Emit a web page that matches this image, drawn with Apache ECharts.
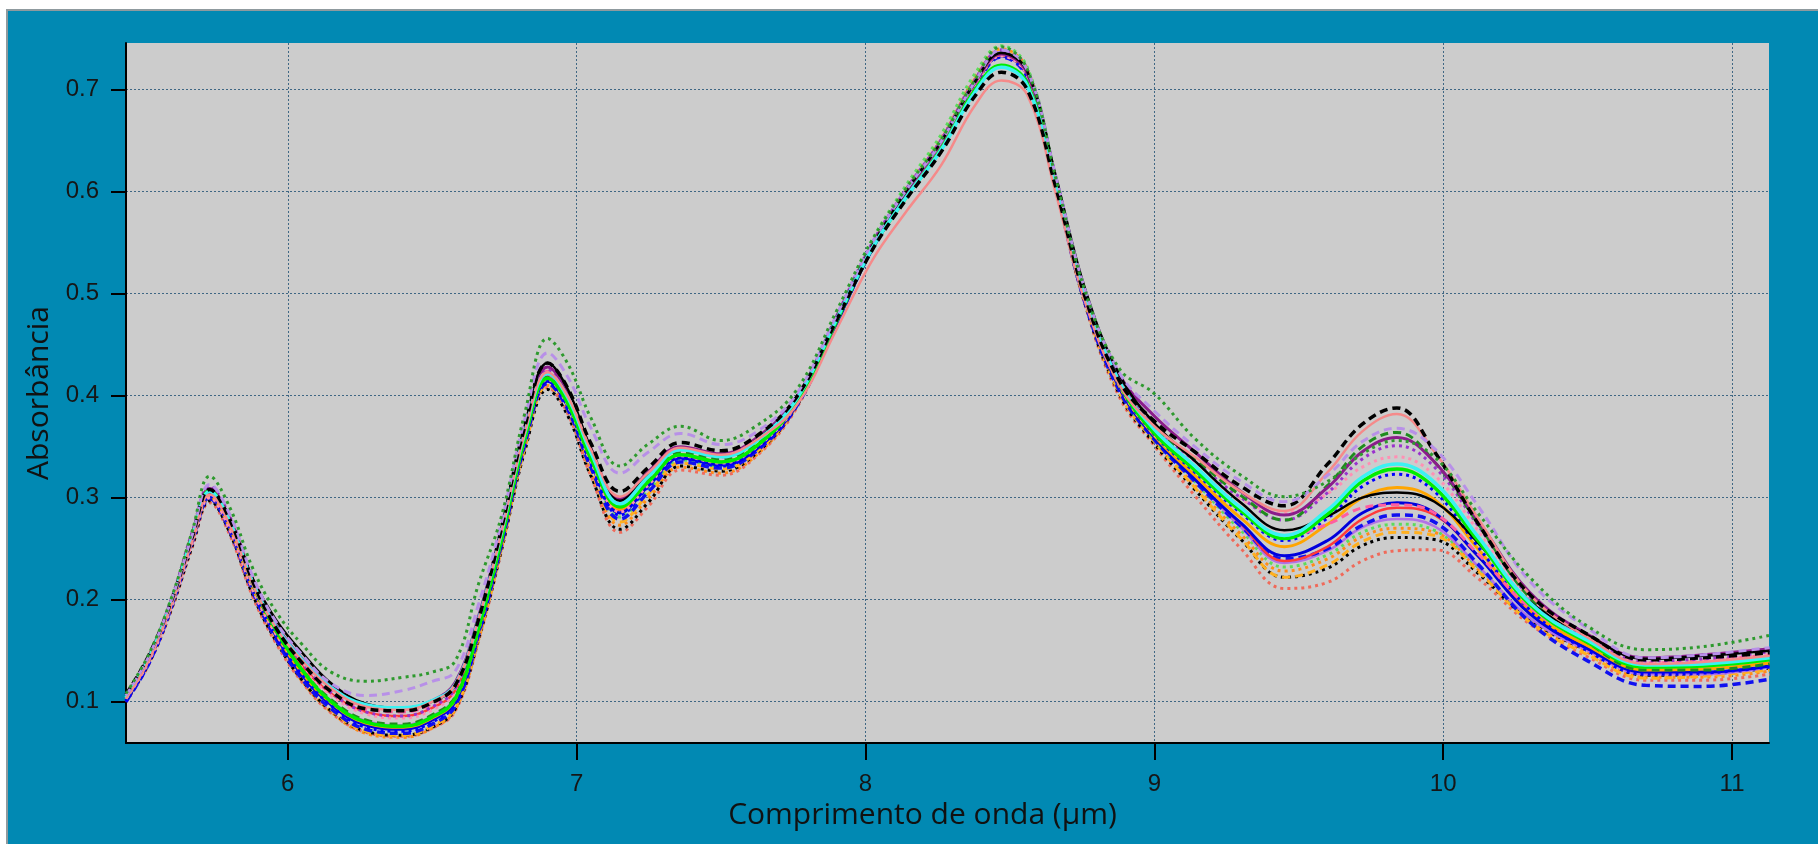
<!DOCTYPE html>
<html>
<head>
<meta charset="utf-8">
<script src="https://cdn.jsdelivr.net/npm/echarts@6/dist/echarts.min.js"></script>
<style>
html,body{margin:0;padding:0;background:#fff;}
#chart{width:1818px;height:844px;}
</style>
</head>
<body>
<div id="chart"></div>
<script>
const wavelengths = [5.44,5.52,5.60,5.67,5.73,5.80,5.88,5.96,6.05,6.15,6.27,6.40,6.50,6.58,6.66,6.74,6.82,6.90,6.97,7.05,7.15,7.25,7.36,7.50,7.62,7.76,7.90,8.02,8.14,8.26,8.38,8.47,8.56,8.66,8.76,8.88,9.00,9.14,9.30,9.45,9.60,9.72,9.84,9.97,10.12,10.30,10.50,10.70,10.90,11.13];
const xTicks = [6,7,8,9,10,11];
const yTicks = [0.1,0.2,0.3,0.4,0.5,0.6,0.7];

const greenDotted = [0.108,0.147,0.204,0.268,0.321,0.290,0.230,0.188,0.156,0.129,
 0.120,0.124,0.129,0.140,0.215,0.282,0.382,0.456,0.431,0.378,
 0.331,0.353,0.370,0.356,0.370,0.405,0.483,0.551,0.603,0.650,
 0.710,0.742,0.720,0.612,0.503,0.426,0.402,0.358,0.322,0.301,
 0.316,0.343,0.356,0.340,0.285,0.222,0.174,0.151,0.154,0.165];
const lavenderDashed = [0.106,0.145,0.202,0.264,0.313,0.283,0.222,0.178,0.146,0.118,
 0.106,0.111,0.120,0.130,0.195,0.276,0.376,0.442,0.418,0.368,
 0.324,0.345,0.363,0.352,0.364,0.401,0.479,0.548,0.601,0.648,
 0.708,0.739,0.719,0.614,0.504,0.422,0.385,0.350,0.316,0.296,
 0.322,0.355,0.368,0.348,0.292,0.218,0.172,0.143,0.146,0.153];
const blackDashed = [0.107,0.146,0.201,0.262,0.308,0.278,0.217,0.172,0.138,0.110,
 0.093,0.091,0.099,0.116,0.180,0.270,0.369,0.432,0.407,0.353,
 0.306,0.330,0.354,0.346,0.360,0.398,0.474,0.541,0.592,0.638,
 0.694,0.717,0.700,0.603,0.497,0.414,0.375,0.345,0.311,0.292,
 0.333,0.372,0.388,0.345,0.275,0.205,0.166,0.141,0.143,0.148];
const salmonSolid = [0.103,0.141,0.197,0.258,0.303,0.273,0.214,0.172,0.140,0.113,
 0.095,0.092,0.100,0.117,0.180,0.266,0.363,0.423,0.399,0.347,
 0.301,0.325,0.349,0.342,0.356,0.390,0.465,0.531,0.580,0.625,
 0.685,0.709,0.695,0.597,0.492,0.410,0.370,0.340,0.306,0.287,
 0.325,0.365,0.382,0.345,0.280,0.205,0.163,0.137,0.139,0.145];
const darkGreenDashed = [0.105,0.143,0.199,0.262,0.306,0.275,0.214,0.169,0.131,0.102,
 0.082,0.078,0.087,0.105,0.173,0.260,0.358,0.418,0.393,0.340,
 0.291,0.318,0.344,0.338,0.353,0.395,0.476,0.546,0.600,0.648,
 0.708,0.736,0.717,0.611,0.500,0.414,0.368,0.338,0.302,0.278,
 0.312,0.350,0.364,0.335,0.275,0.202,0.158,0.131,0.131,0.137];
const magentaSolid = [0.106,0.145,0.201,0.265,0.309,0.279,0.219,0.175,0.142,0.115,
 0.097,0.093,0.101,0.119,0.183,0.270,0.368,0.428,0.403,0.348,
 0.299,0.326,0.350,0.343,0.358,0.398,0.477,0.546,0.599,0.647,
 0.707,0.735,0.716,0.612,0.503,0.420,0.380,0.345,0.306,0.283,
 0.310,0.345,0.359,0.335,0.278,0.207,0.166,0.143,0.146,0.152];
const purpleDotted = [0.105,0.145,0.203,0.267,0.311,0.281,0.219,0.174,0.138,0.109,
 0.090,0.086,0.095,0.113,0.179,0.267,0.365,0.425,0.400,0.344,
 0.294,0.321,0.347,0.340,0.355,0.397,0.478,0.548,0.602,0.650,
 0.710,0.739,0.720,0.613,0.502,0.416,0.370,0.336,0.300,0.278,
 0.305,0.338,0.351,0.330,0.273,0.203,0.163,0.140,0.142,0.149];
const pinkDotted = [0.103,0.140,0.195,0.256,0.300,0.268,0.209,0.166,0.133,0.106,
 0.088,0.084,0.092,0.110,0.175,0.260,0.356,0.416,0.390,0.335,
 0.286,0.313,0.341,0.334,0.349,0.391,0.473,0.544,0.598,0.646,
 0.705,0.733,0.714,0.607,0.496,0.410,0.362,0.328,0.298,0.285,
 0.304,0.330,0.340,0.322,0.268,0.200,0.162,0.138,0.140,0.146];
const cyanSolid = [0.104,0.143,0.199,0.262,0.306,0.276,0.216,0.173,0.141,0.114,
 0.097,0.094,0.101,0.117,0.180,0.266,0.363,0.422,0.398,0.344,
 0.294,0.321,0.347,0.340,0.355,0.396,0.475,0.543,0.594,0.640,
 0.698,0.722,0.704,0.603,0.497,0.413,0.367,0.331,0.290,0.263,
 0.288,0.320,0.333,0.315,0.262,0.197,0.160,0.136,0.137,0.143];
const limeSolid = [0.104,0.143,0.200,0.263,0.307,0.276,0.215,0.170,0.131,0.100,
 0.080,0.076,0.085,0.103,0.171,0.259,0.357,0.417,0.392,0.338,
 0.291,0.316,0.342,0.335,0.350,0.393,0.473,0.543,0.594,0.641,
 0.700,0.724,0.706,0.604,0.496,0.411,0.363,0.327,0.287,0.260,
 0.284,0.316,0.328,0.310,0.258,0.195,0.158,0.134,0.135,0.141];
const blueDotted = [0.100,0.139,0.196,0.259,0.301,0.270,0.210,0.164,0.126,0.096,
 0.075,0.071,0.080,0.098,0.166,0.255,0.353,0.415,0.389,0.333,
 0.283,0.311,0.338,0.331,0.347,0.391,0.473,0.543,0.597,0.646,
 0.706,0.734,0.714,0.606,0.495,0.409,0.362,0.325,0.285,0.258,
 0.280,0.311,0.323,0.306,0.252,0.190,0.150,0.127,0.128,0.134];
const orangeSolid = [0.103,0.141,0.197,0.259,0.301,0.270,0.210,0.166,0.128,0.099,
 0.079,0.075,0.084,0.102,0.169,0.258,0.356,0.417,0.392,0.337,
 0.289,0.316,0.342,0.335,0.350,0.392,0.473,0.543,0.597,0.646,
 0.706,0.734,0.715,0.608,0.496,0.409,0.361,0.322,0.280,0.252,
 0.274,0.300,0.310,0.298,0.250,0.190,0.155,0.131,0.132,0.138];
const blackSolid = [0.105,0.144,0.200,0.262,0.305,0.276,0.220,0.180,0.148,0.118,
 0.098,0.094,0.100,0.116,0.180,0.270,0.370,0.432,0.406,0.348,
 0.297,0.323,0.348,0.341,0.356,0.396,0.475,0.545,0.600,0.648,
 0.708,0.736,0.718,0.614,0.505,0.420,0.373,0.336,0.295,0.268,
 0.282,0.300,0.305,0.296,0.256,0.198,0.165,0.142,0.145,0.150];
const blueSolid = [0.101,0.140,0.196,0.258,0.300,0.269,0.209,0.164,0.126,0.097,
 0.077,0.073,0.082,0.100,0.168,0.256,0.354,0.414,0.389,0.334,
 0.285,0.312,0.339,0.332,0.347,0.390,0.471,0.542,0.596,0.645,
 0.705,0.733,0.714,0.606,0.494,0.407,0.359,0.318,0.275,0.243,
 0.258,0.285,0.295,0.285,0.243,0.186,0.152,0.129,0.129,0.135];
const redSolid = [0.104,0.142,0.198,0.261,0.303,0.272,0.212,0.169,0.135,0.108,
 0.090,0.086,0.094,0.111,0.175,0.261,0.358,0.418,0.393,0.337,
 0.288,0.315,0.342,0.335,0.350,0.392,0.473,0.544,0.598,0.647,
 0.707,0.735,0.716,0.608,0.496,0.408,0.360,0.319,0.274,0.238,
 0.252,0.279,0.290,0.283,0.243,0.188,0.154,0.131,0.132,0.138];
const blueDashed = [0.100,0.138,0.195,0.257,0.299,0.267,0.207,0.161,0.122,0.093,
 0.073,0.069,0.078,0.096,0.165,0.254,0.351,0.412,0.386,0.329,
 0.279,0.306,0.335,0.329,0.345,0.389,0.471,0.542,0.596,0.644,
 0.703,0.732,0.712,0.603,0.491,0.404,0.357,0.316,0.272,0.240,
 0.250,0.273,0.283,0.276,0.235,0.178,0.140,0.116,0.115,0.122];
const mediumPurpleSolid = [0.103,0.141,0.197,0.260,0.302,0.271,0.211,0.167,0.130,0.101,
 0.081,0.077,0.086,0.104,0.171,0.259,0.357,0.420,0.395,0.338,
 0.287,0.314,0.340,0.333,0.349,0.392,0.474,0.545,0.600,0.649,
 0.709,0.737,0.717,0.609,0.495,0.406,0.359,0.318,0.271,0.236,
 0.248,0.271,0.279,0.272,0.233,0.182,0.150,0.127,0.127,0.134];
const lightGreenDotted = [0.104,0.143,0.199,0.262,0.304,0.273,0.213,0.167,0.129,0.100,
 0.079,0.075,0.084,0.102,0.170,0.260,0.359,0.419,0.393,0.335,
 0.281,0.308,0.337,0.331,0.348,0.394,0.478,0.551,0.606,0.655,
 0.716,0.743,0.722,0.612,0.497,0.406,0.357,0.316,0.268,0.232,
 0.244,0.266,0.274,0.268,0.232,0.182,0.152,0.129,0.130,0.137];
const orangeDashed = [0.102,0.139,0.195,0.257,0.300,0.268,0.207,0.161,0.122,0.092,
 0.071,0.067,0.076,0.094,0.162,0.251,0.348,0.410,0.385,0.326,
 0.276,0.304,0.334,0.328,0.344,0.390,0.474,0.546,0.601,0.650,
 0.711,0.738,0.717,0.606,0.491,0.402,0.355,0.310,0.260,0.222,
 0.234,0.257,0.266,0.263,0.228,0.178,0.146,0.123,0.125,0.131];
const blackDotted = [0.101,0.138,0.193,0.253,0.297,0.265,0.204,0.159,0.121,0.091,
 0.071,0.067,0.075,0.093,0.161,0.249,0.345,0.406,0.380,0.321,
 0.269,0.296,0.331,0.326,0.343,0.389,0.472,0.544,0.599,0.648,
 0.708,0.735,0.714,0.604,0.490,0.401,0.353,0.308,0.259,0.222,
 0.231,0.253,0.261,0.259,0.226,0.180,0.150,0.126,0.127,0.133];
const salmonDotted = [0.100,0.137,0.192,0.252,0.295,0.263,0.202,0.157,0.119,0.089,
 0.070,0.066,0.074,0.091,0.159,0.248,0.346,0.408,0.382,0.321,
 0.266,0.292,0.327,0.322,0.340,0.387,0.472,0.545,0.600,0.650,
 0.710,0.737,0.716,0.604,0.489,0.398,0.351,0.302,0.250,0.211,
 0.217,0.238,0.248,0.249,0.221,0.176,0.144,0.121,0.121,0.127];
const orangeDotted = [0.102,0.140,0.196,0.257,0.298,0.266,0.205,0.160,0.120,0.090,
 0.069,0.065,0.074,0.092,0.160,0.250,0.348,0.410,0.385,0.325,
 0.273,0.300,0.330,0.324,0.341,0.389,0.474,0.547,0.603,0.652,
 0.713,0.740,0.720,0.608,0.492,0.402,0.355,0.312,0.264,0.228,
 0.240,0.262,0.270,0.266,0.230,0.180,0.148,0.124,0.124,0.130];
const hotPinkDashed = [0.104,0.143,0.200,0.263,0.306,0.276,0.216,0.173,0.139,0.112,
 0.093,0.090,0.098,0.115,0.179,0.265,0.362,0.424,0.399,0.344,
 0.296,0.323,0.348,0.341,0.356,0.395,0.474,0.543,0.597,0.646,
 0.706,0.734,0.715,0.609,0.499,0.414,0.368,0.330,0.290,0.262,
 0.274,0.290,0.293,0.285,0.245,0.192,0.160,0.138,0.140,0.146];

const DOT = [3, 4];
const DASH = [8, 5];
const seriesDefs = [
  {name:'s1', values: orangeDotted, color:'#FF8C1A', dash: DOT, width:3},
  {name:'s2', values: salmonDotted, color:'#F06A5A', dash: DOT, width:3},
  {name:'s3', values: blackDotted, color:'#000000', dash: DOT, width:3},
  {name:'s4', values: orangeDashed, color:'#FFB020', dash: DASH, width:3},
  {name:'s5', values: lightGreenDotted, color:'#5CDC5C', dash: DOT, width:3},
  {name:'s6', values: mediumPurpleSolid, color:'#B272E6', dash: 'solid', width:2.5},
  {name:'s7', values: blueDashed, color:'#1010F0', dash: DASH, width:3.5},
  {name:'s8', values: redSolid, color:'#FF3A3A', dash: 'solid', width:2.5},
  {name:'s9', values: blueSolid, color:'#0000DD', dash: 'solid', width:3},
  {name:'s10', values: orangeSolid, color:'#FFA500', dash: 'solid', width:3},
  {name:'s11', values: blueDotted, color:'#0000FF', dash: DOT, width:3},
  {name:'s12', values: hotPinkDashed, color:'#FF5FA0', dash: DASH, width:3},
  {name:'s13', values: pinkDotted, color:'#FF90B4', dash: DOT, width:3},
  {name:'s14', values: purpleDotted, color:'#9A32CD', dash: DOT, width:3},
  {name:'s15', values: darkGreenDashed, color:'#1E8C1E', dash: DASH, width:3},
  {name:'s16', values: magentaSolid, color:'#8B1C8B', dash: 'solid', width:3},
  {name:'s17', values: blackSolid, color:'#000000', dash: 'solid', width:2.5},
  {name:'s18', values: limeSolid, color:'#00EE00', dash: 'solid', width:3.5},
  {name:'s19', values: cyanSolid, color:'#3CF2F2', dash: 'solid', width:3.5},
  {name:'s20', values: salmonSolid, color:'#F58A8A', dash: 'solid', width:2.5},
  {name:'s21', values: blackDashed, color:'#000000', dash: DASH, width:3.5},
  {name:'s22', values: lavenderDashed, color:'#B890E8', dash: DASH, width:3},
  {name:'s23', values: greenDotted, color:'#2E9A2E', dash: DOT, width:3}
];

const chart = echarts.init(document.getElementById('chart'), null, {renderer:'canvas'});
const option = {
  animation: false,
  backgroundColor: '#0189B3',
  graphic: [
    {type:'rect', shape:{x:0,y:0,width:1818,height:9}, style:{fill:'#ffffff'}, silent:true},
    {type:'rect', shape:{x:0,y:0,width:6,height:844}, style:{fill:'#ffffff'}, silent:true},
    {type:'rect', shape:{x:6,y:9,width:1812,height:2}, style:{fill:'#8f9a9e'}, silent:true},
    {type:'rect', shape:{x:6,y:9,width:2,height:835}, style:{fill:'#8f9a9e'}, silent:true}
  ],
  grid: {left:126, top:43, right:49, bottom:101, show:true, backgroundColor:'#CCCCCC', borderWidth:0},
  xAxis: {
    type:'value', min:5.44, max:11.128,
    axisLine:{show:true, onZero:false, lineStyle:{color:'#000', width:2}},
    axisTick:{show:true, customValues: xTicks, length:17, lineStyle:{color:'#000', width:2}},
    axisLabel:{customValues: xTicks, fontSize:24, color:'#161616', margin:29, fontFamily:'Liberation Sans, Arial, sans-serif'},
    splitLine:{show:true, lineStyle:{color:'#3f6784', type:[2,2], width:1}},
    name:'Comprimento de onda (µm)', nameLocation:'middle', nameGap:57,
    nameTextStyle:{fontSize:30, fontFamily:'Open Sans, sans-serif', color:'#111', padding:[0,50,0,0]}
  },
  yAxis: {
    type:'value', min:0.0595, max:0.7457,
    axisLine:{show:true, onZero:false, lineStyle:{color:'#000', width:2}},
    axisTick:{show:true, customValues: yTicks, length:15, lineStyle:{color:'#000', width:2}},
    axisLabel:{customValues: yTicks, fontSize:24, color:'#161616', margin:27, fontFamily:'Liberation Sans, Arial, sans-serif'},
    splitLine:{show:true, lineStyle:{color:'#3f6784', type:[2,2], width:1}},
    name:'Absorbância', nameLocation:'middle', nameGap:70,
    nameTextStyle:{fontSize:30, fontFamily:'Open Sans, sans-serif', color:'#111'}
  },
  series: seriesDefs.map(d => ({
    type:'line', name:d.name, showSymbol:false, symbol:'none', smooth:0.4,
    data: wavelengths.map((x,i) => [x, d.values[i]]),
    lineStyle:{color:d.color, width:d.width, type:d.dash},
    silent:true
  }))
};
chart.setOption(option);
</script>
</body>
</html>
